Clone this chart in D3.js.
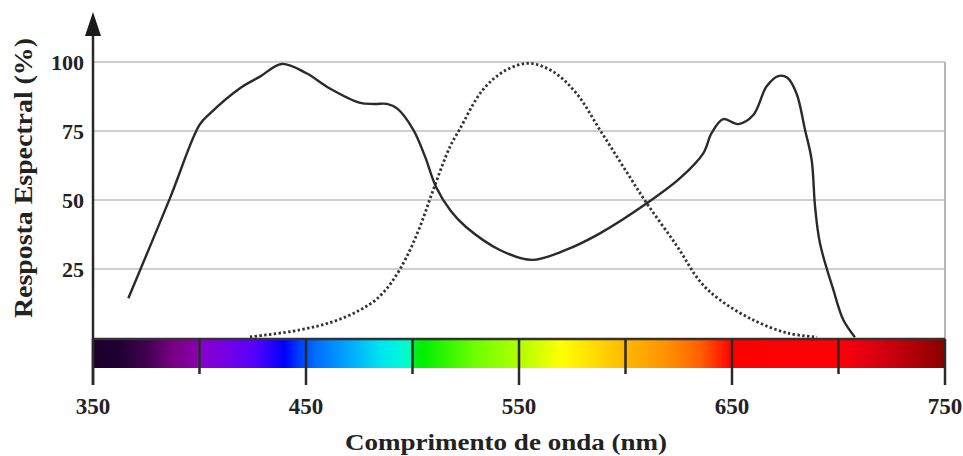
<!DOCTYPE html>
<html><head><meta charset="utf-8">
<script src="https://cdn.jsdelivr.net/npm/d3@7"></script>
<style>
html,body{margin:0;padding:0;background:#fff;}
svg{display:block;}
text{font-family:"Liberation Serif","Times New Roman",serif;font-weight:bold;fill:#222;}
</style></head>
<body><svg id="c" width="963" height="456"></svg>
<script>
// ---- data ----
const solidNm  = [366.6,386,400,405,419,428.4,438.6,450,461,475,482,488,493,500.4,505.9,511,518,525,541,556,572,588,610,625.6,636.5,640.4,645.9,652.9,660,666.2,671.7,676,680.3,684.3,687.4,689,691.3,697.6,702.3,707.7];
const solidVal = [14.4,50.4,77.2,81.4,90.5,94.7,99.3,96,90.5,85.3,84.8,84.8,83,75.4,65.7,54.8,46,40.3,31.9,28.3,31.9,37.9,48.8,57.9,66.9,74.2,79.3,77.5,80.8,91.1,94.9,94.3,88.6,75.4,64.5,47.6,34.3,17.4,6.5,0.3];
const dottedNm  = [423.7,447,463,475,483,490,497,503.5,509.7,517.6,522,533,544,555,566,577,588,599,610,624,635,644,660,676,690];
const dottedVal = [0.4,2.9,6,10,14,20,29,40.3,53.6,69.3,75.4,89.9,97.1,99.5,96.5,88.6,75.4,62,48.8,33.5,20.5,14,6.5,1.8,0.3];
const yTicks = [25,50,75,100];
const xMajor = [350,450,550,650,750];
const xMinor = [400,500,600,700];
const specNm    = [350,362,375,388,399.8,400.2,410,425,440,447,455,470,485,495,499.7,500.3,505,530,550,570,590,600,620,635,645,650,700,715,735,750];
const specColor = ["#1a002a","#200034","#420050","#7a0085","#8a00b0","#8800cc","#7a00e0","#5a00ff","#0000ff","#0040ff","#0070ff","#00a8ff","#00e4f0","#00f8d8","#00ffb0","#00f020","#00f000","#70ff00","#b0ff00","#ffff00","#ffd000","#ffb800","#ff9000","#ff6000","#ff2000","#ff0000","#ff0008","#e00010","#b00008","#8a0000"];
const xTitle = "Comprimento de onda (nm)";
const yTitle = "Resposta Espectral (%)";

// ---- layout ----
const svg = d3.select("#c");
const x = d3.scaleLinear().domain([350,750]).range([93,945]);
const y = d3.scaleLinear().domain([0,100]).range([338,62]);
const barTop = 339, barBot = 368;

// gradient
const grad = svg.append("defs").append("linearGradient").attr("id","spec")
  .attr("gradientUnits","userSpaceOnUse").attr("x1",x(350)).attr("x2",x(750)).attr("y1",0).attr("y2",0);
specNm.forEach((n,i)=>grad.append("stop").attr("offset",(n-350)/400).attr("stop-color",specColor[i]));

// grid
svg.append("g").selectAll("line").data(yTicks).join("line")
  .attr("x1",x(350)).attr("x2",x(750)).attr("y1",d=>y(d)).attr("y2",d=>y(d))
  .attr("stroke","#cfcfcf").attr("stroke-width",2);
svg.append("line").attr("x1",x(750)).attr("x2",x(750)).attr("y1",y(100)).attr("y2",barTop)
  .attr("stroke","#b5b5b5").attr("stroke-width",2);

// spectrum bar
svg.append("rect").attr("x",x(350)).attr("y",barTop).attr("width",x(750)-x(350)).attr("height",barBot-barTop)
  .attr("fill","url(#spec)");
svg.append("line").attr("x1",x(350)).attr("x2",x(750)).attr("y1",barTop).attr("y2",barTop)
  .attr("stroke","#333").attr("stroke-width",2.5);

// ticks
svg.append("g").selectAll("line").data(xMinor).join("line")
  .attr("x1",d=>x(d)).attr("x2",d=>x(d)).attr("y1",barTop).attr("y2",374)
  .attr("stroke","#2a2a2a").attr("stroke-width",2.5);
svg.append("g").selectAll("line").data(xMajor).join("line")
  .attr("x1",d=>x(d)).attr("x2",d=>x(d)).attr("y1",barTop).attr("y2",385)
  .attr("stroke","#2a2a2a").attr("stroke-width",2.5);

// y axis with arrow
svg.append("line").attr("x1",x(350)).attr("x2",x(350)).attr("y1",30).attr("y2",385)
  .attr("stroke","#2a2a2a").attr("stroke-width",2.5);
svg.append("path").attr("d",`M${x(350)},12 L${x(350)-8},36 L${x(350)+8},36 Z`).attr("fill","#1a1a1a");

// curves
const line = d3.line().x(d=>x(d[0])).y(d=>y(d[1])).curve(d3.curveCatmullRom.alpha(0.5));
svg.append("path").attr("d",line(d3.zip(dottedNm,dottedVal))).attr("fill","none")
  .attr("stroke","#333").attr("stroke-width",2.8).attr("stroke-dasharray","2.4,2.4");
svg.append("path").attr("d",line(d3.zip(solidNm,solidVal))).attr("fill","none")
  .attr("stroke","#2a2a2a").attr("stroke-width",2.4);

// labels
svg.append("g").selectAll("text").data(yTicks).join("text")
  .attr("x",84).attr("y",d=>y(d)).attr("dy","0.35em").attr("text-anchor","end")
  .attr("font-size",22).text(d=>d);
svg.append("g").selectAll("text").data(xMajor).join("text")
  .attr("x",d=>x(d)).attr("y",414).attr("text-anchor","middle")
  .attr("font-size",23).text(d=>d);
svg.append("text").attr("x",506).attr("y",450).attr("text-anchor","middle")
  .attr("font-size",24).attr("textLength",322).attr("lengthAdjust","spacingAndGlyphs").text(xTitle);
svg.append("text").attr("transform","translate(32,178) rotate(-90)").attr("text-anchor","middle")
  .attr("font-size",26).attr("textLength",280).attr("lengthAdjust","spacingAndGlyphs").text(yTitle);
</script></body></html>
